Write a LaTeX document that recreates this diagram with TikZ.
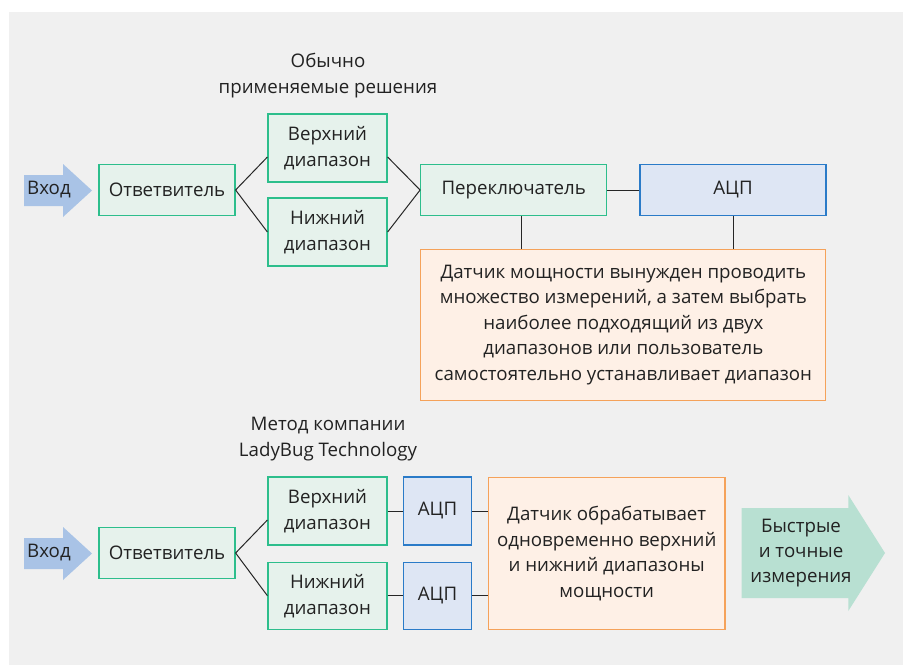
\documentclass[tikz,border=0pt]{standalone}
\usepackage{fontspec}
\setmainfont{Open Sans}
\usetikzlibrary{calc}
\definecolor{bgc}{HTML}{F0F0F0}
\definecolor{gfill}{HTML}{E6F2EC}
\definecolor{gline}{HTML}{2DBE8C}
\definecolor{bfill}{HTML}{DEE6F4}
\definecolor{bline}{HTML}{2A7BC8}
\definecolor{ofill}{HTML}{FEF0E6}
\definecolor{oline}{HTML}{F5A25A}
\definecolor{inarrow}{HTML}{A9C3E6}
\definecolor{outarrow}{HTML}{B8E0D2}
\definecolor{txt}{HTML}{222222}
\tikzset{
  every node/.style={font=\fontsize{18.7}{26}\selectfont, text=txt, align=center, inner sep=0pt},
  gbox/.style={draw=gline, fill=gfill, line width=1.2pt},
  abox/.style={draw=bline, fill=bfill, line width=1.2pt},
  obox/.style={draw=oline, fill=ofill, line width=1.2pt},
  conn/.style={draw=black!85, line width=1pt},
  sz/.style 2 args={minimum width=#1pt, minimum height=#2pt},
}
\begin{document}
\begin{tikzpicture}[x=1pt,y=-1pt]
\useasboundingbox (0,0) rectangle (903,665);
\fill[bgc] (9,12) rectangle (903,665);

% ---------- top ----------
\node (title1) at (328,75.5) {Обычно\\применяемые решения};
\fill[inarrow] (24,175) -- (63,175) -- (63,164) -- (92,190.5) -- (63,217) -- (63,206) -- (24,206) -- cycle;
\node[anchor=west] (in1) at (27,190) {Вход};
\node[gbox, sz={136}{51}] (coup1) at (167,190) {Ответвитель};
\node[gbox, sz={119}{68}] (up1) at (327.5,148) {Верхний\\диапазон};
\node[gbox, sz={119}{68}] (lo1) at (327.5,232) {Нижний\\диапазон};
\node[gbox, sz={186}{51}] (sw) at (513.7,190) {Переключатель};
\node[abox, sz={186}{51}] (adc1) at (733,190) {АЦП};
\node[obox, sz={405}{151.5}, font=\fontsize{18.7}{25.5}\selectfont] (note1) at (623.35,325) {Датчик мощности вынужден проводить\\множество измерений, а затем выбрать\\наиболее подходящий из двух\\диапазонов или пользователь\\самостоятельно устанавливает диапазон};

\draw[conn] (coup1.east) -- ($(up1.west)+(0,9)$);
\draw[conn] (coup1.east) -- (lo1.west);
\draw[conn] ($(up1.east)+(0,9)$) -- (sw.west);
\draw[conn] (lo1.east) -- (sw.west);
\draw[conn] (sw.east) -- (adc1.west);
\draw[conn] ([xshift=8pt]sw.south) -- ([xshift=8pt]sw.south |- note1.north);
\draw[conn] (adc1.south) -- (adc1.south |- note1.north);

% ---------- bottom ----------
\node (title2) at (328,439.5) {Метод компании\\LadyBug Technology};
\fill[inarrow] (24,538) -- (63,538) -- (63,527) -- (92,553.5) -- (63,580) -- (63,569) -- (24,569) -- cycle;
\node[anchor=west] (in2) at (27,553) {Вход};
\node[gbox, sz={136}{51}] (coup2) at (167,553) {Ответвитель};
\node[gbox, sz={119}{68}] (up2) at (327.5,511) {Верхний\\диапазон};
\node[gbox, sz={119}{67}] (lo2) at (327.5,595.7) {Нижний\\диапазон};
\node[abox, sz={68.4}{68}] (adc2a) at (437.5,511) {АЦП};
\node[abox, sz={68.4}{67}] (adc2b) at (437.5,595.7) {АЦП};
\node[obox, sz={236.7}{152}, font=\fontsize{18.7}{25.5}\selectfont] (note2) at (606.7,553.3) {Датчик обрабатывает\\одновременно верхний\\и нижний диапазоны\\мощности};
\fill[outarrow] (741.7,508) -- (848.3,508) -- (848.3,495) -- (885,553) -- (848.3,611) -- (848.3,598) -- (741.7,598) -- cycle;
\node[font=\fontsize{18.7}{25}\selectfont] (out) at (801,553) {Быстрые\\и точные\\измерения};

\draw[conn] (coup2.east) -- ($(up2.west)+(0,9)$);
\draw[conn] (coup2.east) -- (lo2.west);
\draw[conn] (up2.east) -- (adc2a.west);
\draw[conn] (lo2.east) -- (adc2b.west);
\draw[conn] (adc2a.east) -- (adc2a.east -| note2.west);
\draw[conn] (adc2b.east) -- (adc2b.east -| note2.west);
\end{tikzpicture}
\end{document}
